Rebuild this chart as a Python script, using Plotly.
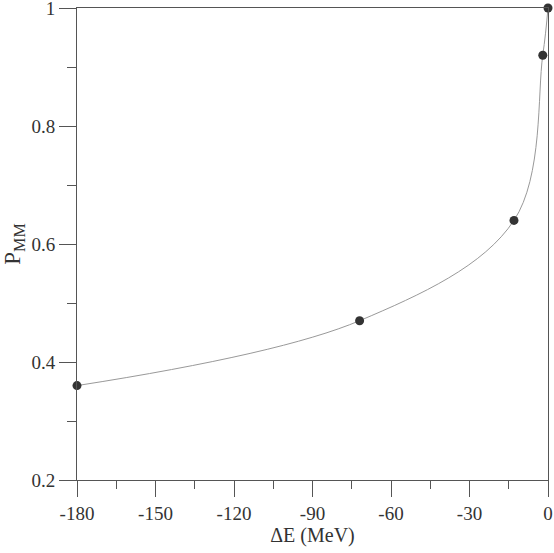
import plotly.graph_objects as go

delta_e = [-180, -72, -13, -2, 0]
p_mm = [0.36, 0.47, 0.64, 0.92, 1.0]

x_ticks = [-180, -150, -120, -90, -60, -30, 0]
y_ticks = [0.2, 0.4, 0.6, 0.8, 1.0]
y_tick_labels = ["0.2", "0.4", "0.6", "0.8", "1"]

font = dict(family="Liberation Serif", size=19, color="#333")

fig = go.Figure()
fig.add_trace(go.Scatter(
    x=delta_e, y=p_mm, mode="lines",
    line=dict(color="#999", width=1, shape="spline", smoothing=1.0),
    hoverinfo="skip", showlegend=False, cliponaxis=False))
fig.add_trace(go.Scatter(
    x=delta_e, y=p_mm, mode="markers",
    marker=dict(color="#333", size=9),
    showlegend=False, cliponaxis=False))

fig.update_layout(
    width=554, height=553,
    margin=dict(l=77, r=6, t=8, b=73, autoexpand=False),
    plot_bgcolor="white", paper_bgcolor="white",
    font=font,
    xaxis=dict(range=[-180, 0], tickvals=x_ticks, ticktext=[str(v) for v in x_ticks],
               ticks="outside", ticklen=16, tickwidth=1, tickcolor="#555",
               minor=dict(dtick=15, tick0=-180, ticks="outside", ticklen=8, tickcolor="#555"),
               showline=True, linecolor="#555", linewidth=1, mirror=True,
               showgrid=False, zeroline=False, automargin=False, ticklabeloverflow="allow",
               title=dict(text="ΔE (MeV)", standoff=5, font=dict(size=20))),
    yaxis=dict(range=[0.2, 1.0], tickvals=y_ticks, ticktext=y_tick_labels,
               ticks="outside", ticklen=17, tickwidth=1, tickcolor="#555",
               minor=dict(dtick=0.1, tick0=0.2, ticks="outside", ticklen=9, tickcolor="#555"),
               showline=True, linecolor="#555", linewidth=1, mirror=True,
               showgrid=False, zeroline=False, automargin=False, ticklabeloverflow="allow",
               title=dict(text="P<sub>MM</sub>", standoff=4)),
)

fig.write_html("out.html", config={"displayModeBar": False},
               post_script="document.body.style.margin='0';document.body.style.overflow='hidden';")
